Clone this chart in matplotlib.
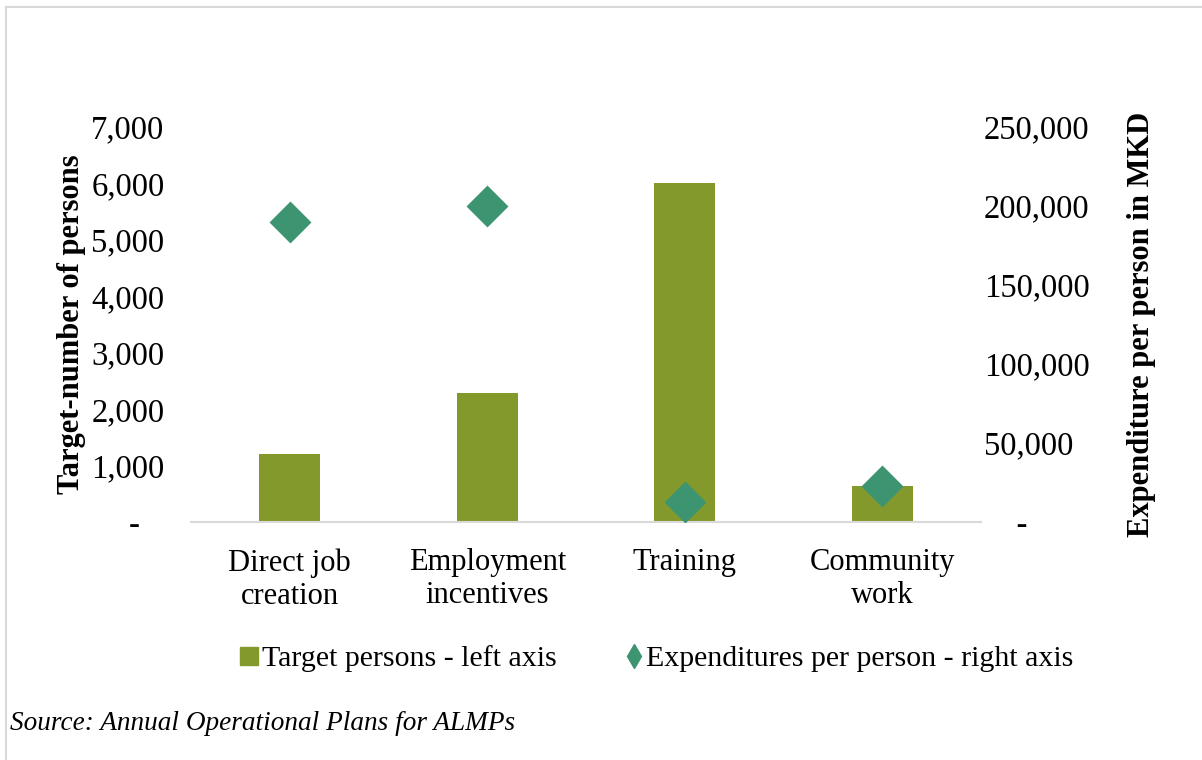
import matplotlib.pyplot as plt
from matplotlib.lines import Line2D
from matplotlib import ticker as mticker

# programme data
categories = ['Direct job\ncreation', 'Employment\nincentives', 'Training', 'Community\nwork']
target_persons = [1200, 2290, 6000, 640]
exp_per_person = [190000, 200000, 12500, 22500]

left_ticks = [0, 1000, 2000, 3000, 4000, 5000, 6000, 7000]
right_ticks = [0, 50000, 100000, 150000, 200000, 250000]

bar_color = '#84992C'
dot_color = '#3C9470'
grey = '#D9D9D9'

plt.rcParams['font.family'] = ['Liberation Serif', 'DejaVu Serif']
plt.rcParams['font.size'] = 22

W, H = 1202, 760
fig = plt.figure(figsize=(W / 100, H / 100), dpi=100)
ax = fig.add_axes([191 / W, 1 - 522 / H, (981 - 191) / W, (522 - 127) / H])
ax2 = ax.twinx()

x = range(len(categories))
ax.bar(x, target_persons, width=0.31, color=bar_color, zorder=2)
ax2.plot(x, exp_per_person, linestyle='none', marker='D', markersize=19,
         color=dot_color, markeredgewidth=2, markeredgecolor=dot_color,
         zorder=3)

ax.set_xlim(-0.5, len(categories) - 0.5)
ax.set_ylim(0, 7000)
ax2.set_ylim(0, 250000)
ax.set_xticks(list(x))
ax.set_xticklabels(categories, linespacing=1.17)
ax.set_yticks(left_ticks)
ax2.set_yticks(right_ticks)


def left_fmt(v, pos):
    return '-   ' if v == 0 else f'{v:,.0f}'


def right_fmt(v, pos):
    return '    -' if v == 0 else f'{v:,.0f}'


ax.yaxis.set_major_formatter(mticker.FuncFormatter(left_fmt))
ax2.yaxis.set_major_formatter(mticker.FuncFormatter(right_fmt))

for a in (ax, ax2):
    for s in a.spines.values():
        s.set_visible(False)
    a.tick_params(length=0)
ax.spines['bottom'].set_visible(True)
ax.spines['bottom'].set_color(grey)
ax.spines['bottom'].set_linewidth(1.5)
ax.tick_params(axis='x', pad=19)
ax.tick_params(axis='y', pad=19, labelsize=23.5)
ax2.tick_params(axis='y', pad=2, labelsize=23.5)

ax.set_ylabel('Target-number of persons', fontweight='bold', labelpad=4)
ax2.set_ylabel('Expenditure per person in MKD', fontweight='bold', labelpad=27)

handles = [
    Line2D([], [], linestyle='none', marker='s', markersize=12.5,
           color=bar_color, label='Target persons - left axis'),
    Line2D([], [], linestyle='none', marker='d', markersize=12.5,
           color=dot_color, label='Expenditures per person - right axis'),
]
fig.legend(handles=handles, loc='center', bbox_to_anchor=(0.547, 1 - 659 / H),
           ncol=2, frameon=False, handlelength=0.55, handletextpad=0.15,
           columnspacing=2.3, fontsize=21.5)

fig.text(10 / W, 1 - 724 / H, 'Source: Annual Operational Plans for ALMPs',
         fontsize=19.6, style='italic', va='center', ha='left')

# thin frame along top and left edge
fig.add_artist(Line2D([6 / W, 1], [1 - 7 / H, 1 - 7 / H], color=grey,
                      linewidth=1.5, transform=fig.transFigure))
fig.add_artist(Line2D([6 / W, 6 / W], [0, 1 - 7 / H], color=grey,
                      linewidth=1.5, transform=fig.transFigure))

fig.savefig('out.png', dpi=100, facecolor='white')
